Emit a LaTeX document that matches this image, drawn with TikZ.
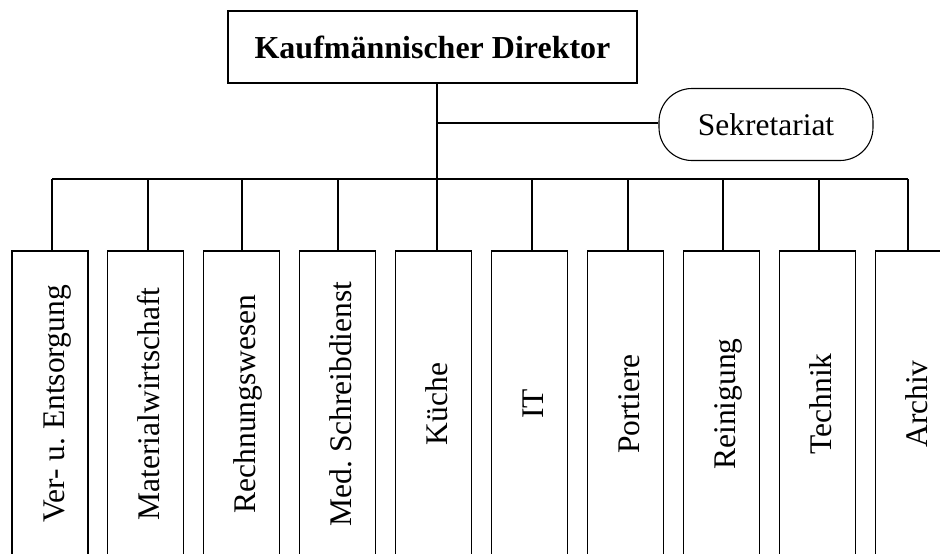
\documentclass[tikz,border=0pt]{standalone}
\usepackage{fontspec}
\setmainfont{Liberation Serif}
\frenchspacing
\begin{document}
\begin{tikzpicture}[x=1pt,y=-1pt, line width=1.1pt,
  orgbox/.style={draw, minimum width=76pt, minimum height=309pt, inner sep=0pt},
  lbl/.style={rotate=90, anchor=base, inner sep=0pt, font=\fontsize{31.5}{36}\selectfont},
  headbox/.style={draw, minimum width=409pt, minimum height=72pt, inner sep=0pt, font=\bfseries\fontsize{32}{36}\selectfont},
  staffbox/.style={draw, rounded corners=33pt, minimum width=214pt, minimum height=72pt, inner sep=0pt, font=\fontsize{31.5}{36}\selectfont}]
\useasboundingbox (0,0) rectangle (940,554);
\clip (0,0) rectangle (940,554);
\node[headbox] (kd) at (432.5,47) {Kaufmännischer Direktor};
\node[staffbox] (sek) at (766,124.5) {Sekretariat};
\coordinate (j) at (437,123);
\draw (j) -- (j -| sek.west);
\coordinate (busL) at (52,179);
\coordinate (busR) at (908,179);
\draw (busL) -- (busR);
\foreach \i/\cx/\t in {0/52/{Ver- u. Entsorgung}, 1/148/{Materialwirtschaft}, 2/242/{Rechnungswesen}, 3/338/{Med. Schreibdienst}, 4/437/{Küche}, 5/532/{IT}, 6/628/{Portiere}, 7/723/{Reinigung}, 8/819/{Technik}, 9/908/{Archiv}} {
  \pgfmathsetmacro\bx{12+95.9*\i+38}
  \node[orgbox] (b\i) at (\bx,405.5) {};
  \node[lbl] (t\i) at ({\bx+14},404) {\t};
  \coordinate (c\i) at (\cx,179);
  \draw (c\i) -- (c\i |- b\i.north);
}
\draw (kd.south -| j) -- (c4);
\end{tikzpicture}
\end{document}
